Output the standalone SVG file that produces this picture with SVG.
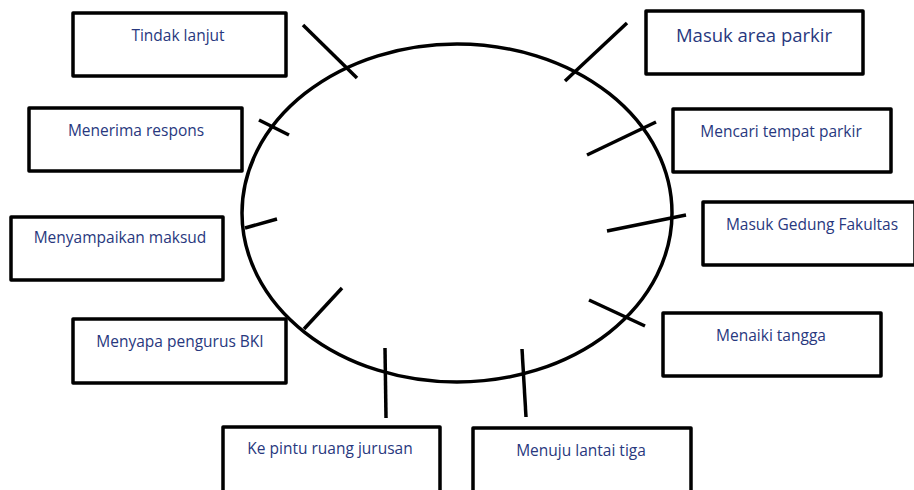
<svg xmlns="http://www.w3.org/2000/svg" width="914" height="490" viewBox="0 0 914 490">
  <style>
    .box { fill: #ffffff; stroke: #000000; stroke-width: 3.5; stroke-linejoin: round; }
    .lbl { font-family: "Open Sans", "Liberation Sans", sans-serif; font-size: 15.5px; fill: #28387e; text-anchor: middle; }
    .big { font-size: 18.5px; }
    .tick { stroke: #000000; stroke-width: 3.5; stroke-linecap: butt; fill: none; }
    .ring { fill: none; stroke: #000000; stroke-width: 3.5; }
  </style>
  <rect width="914" height="490" fill="#ffffff"/>

  <!-- central cycle -->
  <ellipse class="ring" cx="457" cy="213" rx="215" ry="169"/>

  <!-- tick marks joining each step to the cycle -->
  <g id="connectors">
    <line class="tick" x1="303" y1="25" x2="357" y2="78"/>
    <line class="tick" x1="259" y1="120" x2="289" y2="135"/>
    <line class="tick" x1="245" y1="228" x2="277" y2="219"/>
    <line class="tick" x1="342" y1="288" x2="304" y2="329"/>
    <line class="tick" x1="385" y1="348" x2="386" y2="418"/>
    <line class="tick" x1="522" y1="349" x2="526" y2="417"/>
    <line class="tick" x1="589" y1="300" x2="645" y2="326"/>
    <line class="tick" x1="686" y1="215" x2="607" y2="231"/>
    <line class="tick" x1="656" y1="122" x2="587" y2="155"/>
    <line class="tick" x1="627" y1="23" x2="565" y2="81"/>
  </g>

  <g id="masuk-area-parkir">
    <rect class="box" x="646" y="11" width="217" height="63"/>
    <text class="lbl big" x="754" y="42">Masuk area parkir</text>
  </g>
  <g id="mencari-tempat-parkir">
    <rect class="box" x="673" y="109" width="218" height="63"/>
    <text class="lbl" x="781" y="137">Mencari tempat parkir</text>
  </g>
  <g id="masuk-gedung-fakultas">
    <rect class="box" x="703" y="202" width="212" height="63"/>
    <text class="lbl" x="812" y="230">Masuk Gedung Fakultas</text>
  </g>
  <g id="menaiki-tangga">
    <rect class="box" x="663" y="313" width="218" height="63"/>
    <text class="lbl" x="771" y="341">Menaiki tangga</text>
  </g>
  <g id="menuju-lantai-tiga">
    <rect class="box" x="473" y="428" width="218" height="70"/>
    <text class="lbl" x="581" y="456">Menuju lantai tiga</text>
  </g>
  <g id="ke-pintu-ruang-jurusan">
    <rect class="box" x="223" y="427" width="217" height="70"/>
    <text class="lbl" x="330" y="454">Ke pintu ruang jurusan</text>
  </g>
  <g id="menyapa-pengurus-bki">
    <rect class="box" x="73" y="319" width="213" height="64"/>
    <text class="lbl" x="180" y="347">Menyapa pengurus BKI</text>
  </g>
  <g id="menyampaikan-maksud">
    <rect class="box" x="11" y="217" width="212" height="63"/>
    <text class="lbl" x="120" y="243">Menyampaikan maksud</text>
  </g>
  <g id="menerima-respons">
    <rect class="box" x="29" y="108" width="213" height="63"/>
    <text class="lbl" x="136" y="136">Menerima respons</text>
  </g>
  <g id="tindak-lanjut">
    <rect class="box" x="73" y="13" width="213" height="63"/>
    <text class="lbl" x="178" y="41">Tindak lanjut</text>
  </g>
</svg>
